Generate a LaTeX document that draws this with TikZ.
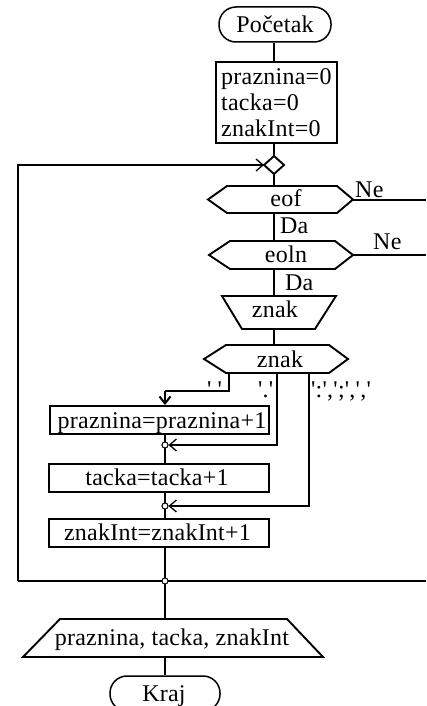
\documentclass[tikz,border=0pt]{standalone}
\usepackage{fontspec}
\newfontfamily\fc{Liberation Serif}[LetterSpace=1]
\usetikzlibrary{arrows.meta}

\tikzset{
  shapeline/.style={line width=1.9pt, line join=miter},
  spine/.style={line width=2.8pt},
  thinline/.style={line width=1.3pt},
  loopline/.style={line width=2pt},
  box/.style={draw, line width=1.9pt, inner sep=0pt},
  term/.style={draw, line width=1.5pt, rounded corners=17pt, inner sep=0pt},
  txt/.style={inner sep=0pt, anchor=base},
  joint/.style={circle, draw, fill=white, line width=0.9pt, inner sep=0pt, minimum size=6pt},
  barb/.style={-{Straight Barb[length=7pt,width=12pt,line width=1.3pt]}},
  thickbarb/.style={-{Straight Barb[length=7pt,width=11pt,line width=2pt]}}
}

\begin{document}
\begin{tikzpicture}[x=1pt, y=-1pt, font=\fc\fontsize{24}{28}\selectfont]
\useasboundingbox (0,0) rectangle (426,706);

% vertical guides of the two spines
\coordinate (sx) at (274,0);
\coordinate (lx) at (165,0);

% start and initialisation
\node[term, minimum width=112pt, minimum height=35pt] (start) at (275,24.5) {Početak};
\node[box, minimum width=121pt, minimum height=81pt] (init) at (276.5,102.5) {};
\node[txt, anchor=base west] (i1) at (221,85) {praznina=0};
\node[txt, anchor=base west] (i2) at (221,110.5) {tacka=0};
\node[txt, anchor=base west] (i3) at (221,136) {znakInt=0};

% loop entry junction
\draw[shapeline] (264,165) -- (274,156) -- (284,165) -- (274,174) -- cycle;
\coordinate (djL) at (264,165);
\coordinate (djT) at (274,156);
\coordinate (djB) at (274,174);

% eof test
\draw[shapeline] (208,199.5) -- (227,186) -- (337,186) -- (353,199.5) -- (337,213) -- (227,213) -- cycle;
\node[txt] (eof) at (286,206) {eof};
\coordinate (eofT) at (274,186);
\coordinate (eofB) at (274,213);
\coordinate (eofR) at (353,200);
\coordinate (eofOut) at (426,200);
\node[txt, anchor=base west] (ne1) at (355,197) {Ne};
\node[txt, anchor=base west] (da1) at (280,233) {Da};

% eoln test
\draw[shapeline] (209,255) -- (230,241) -- (335,241) -- (353,255) -- (335,269) -- (230,269) -- cycle;
\node[txt] (eoln) at (286,262) {eoln};
\coordinate (eolnT) at (274,241);
\coordinate (eolnB) at (274,269);
\coordinate (eolnR) at (353,255);
\coordinate (eolnOut) at (426,255);
\node[txt, anchor=base west] (ne2) at (373,249) {Ne};
\node[txt, anchor=base west] (da2) at (285,290) {Da};

% read znak
\draw[shapeline] (222,296) -- (336,296) -- (315,329) -- (242,329) -- cycle;
\node[txt] (rd) at (275,317) {znak};
\coordinate (inT) at (274,296);
\coordinate (inB) at (274,329);

% case on znak
\draw[shapeline] (204,359) -- (226,345) -- (329,345) -- (348,359) -- (329,373) -- (226,373) -- cycle;
\node[txt] (dec) at (280,367) {znak};
\coordinate (decT) at (274,345);
\coordinate (b1) at (229,373);
\coordinate (b1turn) at (165,391);
\coordinate (b2) at (277,373);
\coordinate (b3) at (309,373);
\node[txt, anchor=base west] (l1) at (207,397) {' '};
\node[txt, anchor=base west] (l2) at (258,397) {'.'};
\node[txt, anchor=base west] (l3) at (311,397) {':',';',','};

% counters
\node[box, minimum width=219pt, minimum height=28pt] (praz) at (159.5,420) {};
\node[txt] (prazt) at (162,428) {praznina=praznina+1};
\node[box, minimum width=220pt, minimum height=28pt] (tack) at (159,478) {};
\node[txt] (tackt) at (157,485) {tacka=tacka+1};
\node[box, minimum width=220pt, minimum height=28pt] (zi) at (159,533) {};
\node[txt] (zit) at (157.5,540) {znakInt=znakInt+1};

% merge points
\node[joint] (j1) at (165,445) {};
\node[joint] (j2) at (165,506) {};
\node[joint] (j3) at (165,581) {};
\coordinate (cornerB) at (18,581);
\coordinate (cornerT) at (18,165);
\coordinate (exitR) at (426,581);

% output and end
\draw[shapeline] (60,619) -- (287,619) -- (323,657) -- (23,657) -- cycle;
\node[txt] (outt) at (172,645) {praznina, tacka, znakInt};
\coordinate (outT) at (165,619);
\coordinate (outB) at (165,657);
\node[term, minimum width=110pt, minimum height=35pt] (kraj) at (165,693.5) {};
\node[txt] (krajt) at (164,701) {Kraj};

% upper spine
\draw[spine] (start.south -| sx) -- (init.north -| sx);
\draw[spine] (init.south -| sx) -- (djT);
\draw[spine] (djB) -- (eofT);
\draw[spine] (eofB) -- (eolnT);
\draw[spine] (eolnB) -- (inT);
\draw[spine] (inB) -- (decT);

% exits to the right
\draw[thinline] (eofR) -- (eofOut);
\draw[thinline] (eolnR) -- (eolnOut);
\draw[thinline] (exitR) -- (j3);

% case branches
\draw[thinline] (b1) |- (b1turn);
\draw[spine, thickbarb] (b1turn) -- (praz.north -| lx);
\draw[thinline, barb] (b2) |- (j1.east);
\draw[thinline, barb] (b3) |- (j2.east);

% lower spine
\draw[spine] (praz.south -| lx) -- (j1);
\draw[spine] (j1) -- (tack.north -| lx);
\draw[spine] (tack.south -| lx) -- (j2);
\draw[spine] (j2) -- (zi.north -| lx);
\draw[spine] (zi.south -| lx) -- (j3);
\draw[spine] (j3) -- (outT);
\draw[spine] (outB) -- (kraj.north -| lx);

% loop back
\draw[line width=2.8pt] (j3) -- (cornerB);
\draw[loopline, barb] (cornerB) -- (cornerT) -- (djL);

% redraw merge points over the lines
\node[joint] at (j1) {};
\node[joint] at (j2) {};
\node[joint] at (j3) {};
\end{tikzpicture}
\end{document}
